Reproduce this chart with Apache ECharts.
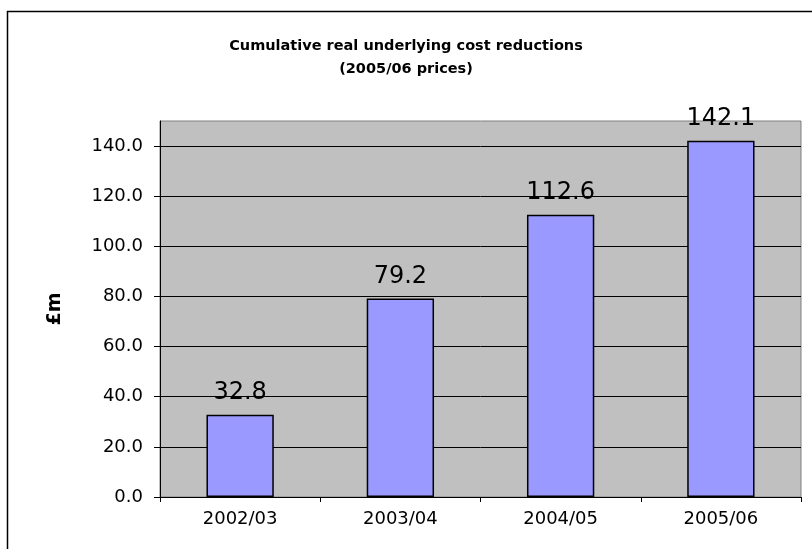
<!DOCTYPE html>
<html>
<head>
<meta charset="utf-8">
<script src="https://cdn.jsdelivr.net/npm/echarts@6/dist/echarts.min.js"></script>
<style>
  html, body { margin: 0; padding: 0; background: #fff; }
  #main { width: 812px; height: 549px; }
</style>
</head>
<body>
<div id="main"></div>
<script>
// data
var years = ['2002/03', '2003/04', '2004/05', '2005/06']
var reductions = [32.8, 79.2, 112.6, 142.1]
var titleLines = ['Cumulative real underlying cost reductions', '(2005/06 prices)']

var myChart = echarts.init(document.getElementById('main'))
var font = '"DejaVu Sans", sans-serif'

var option = {
  backgroundColor: '#fff',
  animation: false,
  textStyle: { fontFamily: font },
  title: {
    text: titleLines.join('\n'),
    left: 'center',
    top: 30,
    textStyle: {
      fontFamily: font,
      fontSize: 14.5,
      fontWeight: 'bold',
      color: '#000',
      lineHeight: 23
    }
  },
  // outer chart frame
  graphic: [{
    type: 'rect',
    shape: { x: 7.5, y: 11.5, width: 900, height: 700 },
    style: { fill: 'none', stroke: '#000', lineWidth: 1.5 },
    silent: true
  }],
  grid: {
    left: 160,
    top: 121,
    right: 11,
    bottom: 52,
    show: true,
    backgroundColor: '#C0C0C0',
    borderColor: '#808080',
    borderWidth: 1
  },
  xAxis: {
    type: 'category',
    data: years,
    axisLine: { lineStyle: { color: '#000', width: 1 } },
    axisTick: { show: true, length: 5, lineStyle: { color: '#000' } },
    axisLabel: { fontSize: 18, color: '#000', margin: 13, fontFamily: font }
  },
  yAxis: {
    type: 'value',
    min: 0,
    max: 150,
    interval: 20,
    name: '£m',
    nameLocation: 'middle',
    nameRotate: 90,
    nameGap: 95,
    nameTextStyle: { fontSize: 19, fontWeight: 'bold', color: '#000', fontFamily: font },
    axisLine: { show: true, lineStyle: { color: '#000', width: 1 } },
    axisTick: { show: true, length: 6, lineStyle: { color: '#000' } },
    splitLine: { showMaxLine: false, lineStyle: { color: '#000', width: 1 } },
    axisLabel: {
      fontSize: 18,
      color: '#000',
      margin: 17,
      fontFamily: font,
      showMaxLabel: false,
      formatter: function (v) { return v.toFixed(1) }
    }
  },
  series: [{
    type: 'bar',
    data: reductions,
    barWidth: '42%',
    itemStyle: { color: '#9999FF', borderColor: '#000', borderWidth: 1.5 },
    label: {
      show: true,
      position: 'top',
      distance: 10,
      fontSize: 24,
      color: '#000',
      fontFamily: font,
      formatter: function (p) { return p.value.toFixed(1) }
    }
  }]
}

myChart.setOption(option)
</script>
</body>
</html>
